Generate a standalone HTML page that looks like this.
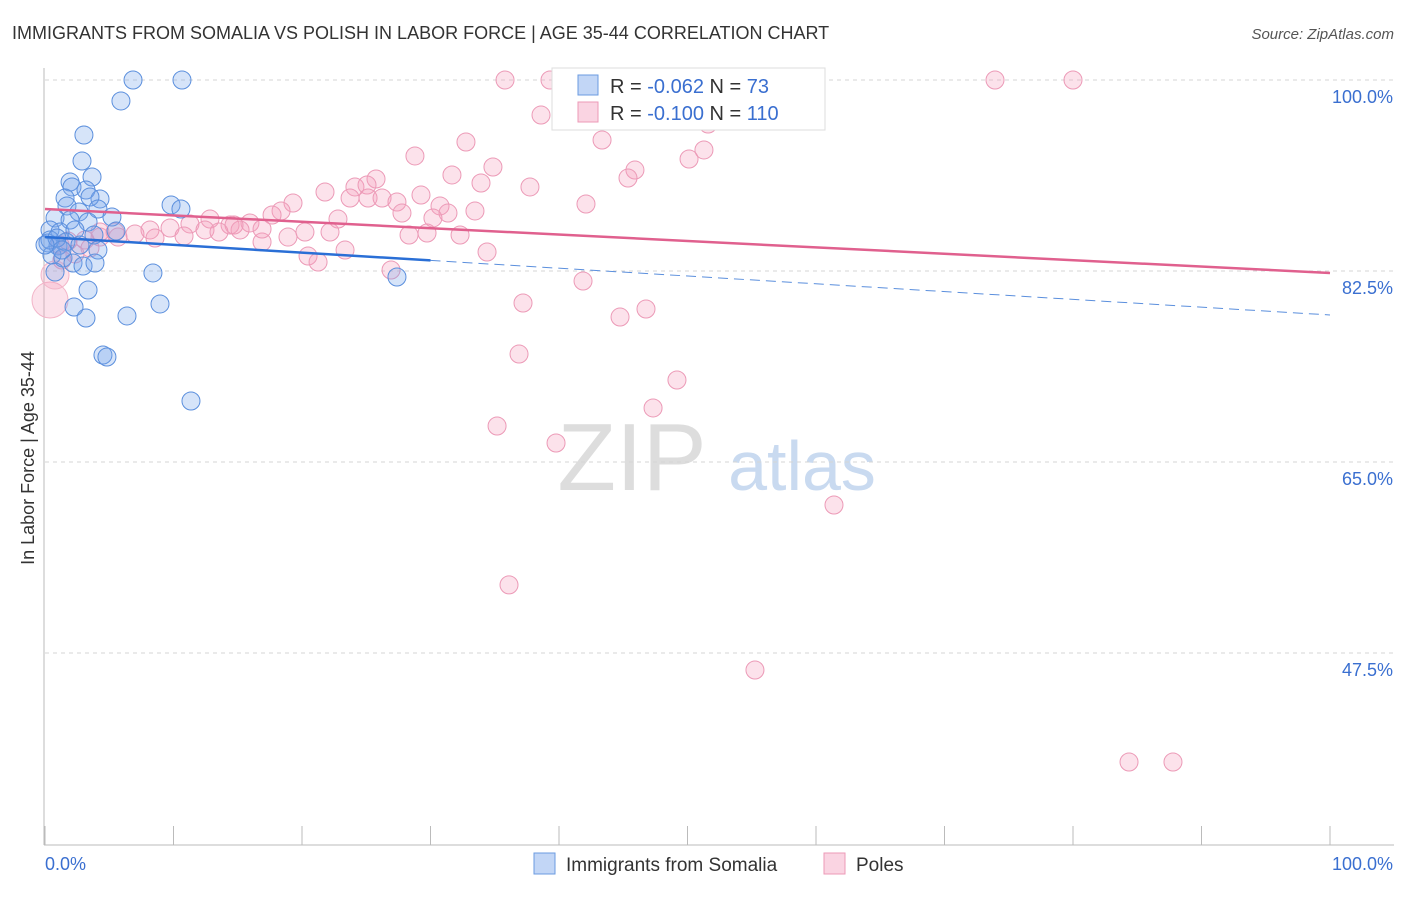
<!DOCTYPE html>
<html><head><meta charset="utf-8"><style>
body{margin:0;background:#fff;font-family:"Liberation Sans",sans-serif;}
svg text{font-family:"Liberation Sans",sans-serif;}
</style></head><body>
<svg width="1406" height="892" viewBox="0 0 1406 892" xmlns="http://www.w3.org/2000/svg">
<text x="12" y="39" font-size="18" fill="#333">IMMIGRANTS FROM SOMALIA VS POLISH IN LABOR FORCE | AGE 35-44 CORRELATION CHART</text>
<text x="1394" y="39" font-size="15" fill="#555" font-style="italic" text-anchor="end">Source: ZipAtlas.com</text>
<g><text x="632" y="490" font-size="96" fill="#ddd" font-family="Liberation Serif" text-anchor="middle">ZIP</text><text x="802" y="490" font-size="70" fill="#c9daf0" text-anchor="middle">atlas</text></g>
<g id="grid"></g><g id="axes"></g><g id="pts"></g><g id="lines"></g>
<text transform="translate(34,458) rotate(-90)" font-size="18" fill="#333" text-anchor="middle">In Labor Force | Age 35-44</text>
<g>
<rect x="552" y="68" width="273" height="62" fill="#fff" stroke="#ddd"/>
<rect x="578" y="75" width="20" height="20" fill="rgba(120,165,235,0.45)" stroke="#6b9be0"/>
<rect x="578" y="102" width="20" height="20" fill="rgba(245,160,190,0.45)" stroke="#ec9ab7"/>
<text x="610" y="93" font-size="20" fill="#333">R = <tspan fill="#3a6fd0">-0.062</tspan>   N =  <tspan fill="#3a6fd0">73</tspan></text>
<text x="610" y="120" font-size="20" fill="#333">R = <tspan fill="#3a6fd0">-0.100</tspan>   N = <tspan fill="#3a6fd0">110</tspan></text>
</g>
<g>
<rect x="534" y="853" width="21" height="21" fill="rgba(120,165,235,0.45)" stroke="#6b9be0"/>
<text x="566" y="871" font-size="19" fill="#333">Immigrants from Somalia</text>
<rect x="824" y="853" width="21" height="21" fill="rgba(245,160,190,0.45)" stroke="#ec9ab7"/>
<text x="856" y="871" font-size="19" fill="#333">Poles</text>
</g>
</svg>
<script>
const yTicks=[100,82.5,65,47.5];
const xTickLabels=["0.0%","100.0%"];
const blueX=[6.85,10.66,5.91,3.03,2.88,1.95,3.66,2.10,3.19,1.56,4.28,3.50,1.71,2.65,4.12,9.81,10.58,0.78,1.95,3.35,5.21,0.39,1.17,2.33,3.81,5.53,0.23,1.01,1.63,2.72,4.12,0.54,1.40,2.18,2.96,3.89,0.78,3.35,8.40,2.26,3.19,6.38,8.95,4.51,4.82,11.36,27.39,0.39,0.93,0.0,1.32];
const blueY=[100,100,98.08,94.96,92.58,90.65,91.11,90.20,89.92,89.19,89.10,89.28,88.46,87.91,88.18,88.55,88.18,87.36,87.17,86.99,87.45,86.26,86.07,86.26,85.80,86.16,85.07,84.79,85.16,84.88,84.42,83.97,83.69,83.23,82.96,83.23,82.41,80.76,82.32,79.20,78.19,78.38,79.48,74.80,74.62,70.59,81.95,85.34,85.52,84.88,84.42];
const pinkX=[35.80,39.30,40.47,42.41,53.15,54.09,56.03,73.93,80.00,38.60,40.54,51.60,43.35,32.76,28.79,51.28,34.86,50.12,45.91,45.37,31.67,33.93,25.76,24.12,25.06,21.79,37.74,23.74,25.14,26.23,27.39,29.26,42.10,30.74,33.46,31.36,27.78,22.80,19.30,18.37,17.67,15.95,14.40,12.84,11.28,9.73,8.17,7.00,5.68,4.28,3.11,1.79,20.23,22.18,16.89,18.91,30.19,28.33,29.73,32.30,23.35,20.47,21.25,26.93,34.40,41.87,37.20,44.75,46.77,36.89,49.18,47.32,35.18,39.77,61.40,36.11,55.25,84.36,87.78,8.56,15.18,12.45,5.45,4.28,1.17,2.33,3.50,1.32,10.82,16.89,14.71,13.54];
const pinkY=[100,100,100,100,100,100,100,100,100,96.79,97.07,95.97,94.50,94.32,93.04,93.59,92.03,92.76,91.75,91.02,91.30,90.56,90.93,90.20,90.38,89.74,90.20,89.19,89.19,89.19,88.82,89.46,88.64,88.46,88.00,87.81,87.81,87.26,88.73,88.00,87.63,86.90,86.71,87.26,86.81,86.44,86.26,85.89,85.61,85.61,85.34,85.25,86.07,86.07,85.16,85.61,87.36,85.80,85.98,85.80,84.42,83.87,83.32,82.59,84.24,81.58,79.57,78.28,79.02,74.89,72.51,69.95,68.30,66.74,61.06,53.74,45.94,37.51,37.51,85.52,86.26,86.26,86.07,86.07,84.88,84.06,84.61,83.51,85.71,86.35,86.71,86.07];
const pinkBigX=[0.39,0.78];
const pinkBigY=[79.84,82.13];
const pinkTrend=[88.18,82.32];
const blueTrend=[85.61,78.47];
const blueSolidEnd=30;

const NS="http://www.w3.org/2000/svg";
const X=v=>45+v*12.85;
const Y=v=>80+(100-v)*10.914;
function mk(tag,attrs,parent){const e=document.createElementNS(NS,tag);for(const k in attrs)e.setAttribute(k,attrs[k]);document.getElementById(parent).appendChild(e);return e;}
yTicks.forEach(t=>{
 const l=mk('line',{x1:45,x2:1394,y1:Y(t),y2:Y(t),stroke:'#d5d5d5','stroke-dasharray':'4,4'},'grid');
 
 
 const tx=mk('text',{x:1393,y:Y(t)+23,'font-size':18,fill:'#3a6fd0','text-anchor':'end'},'grid');
 tx.textContent=t.toFixed(1)+'%';
 
 
});
const ax=mk('line',{x1:44,x2:44,y1:68,y2:845,stroke:'#bbb'},'axes');


const bx=mk('line',{x1:44,x2:1394,y1:845,y2:845,stroke:'#bbb'},'axes');


for(let i=0;i<=10;i++){const t=mk('line',{x1:X(i*10),x2:X(i*10),y1:826,y2:845,stroke:'#bbb'},'axes');
 
 }
xTickLabels.forEach((s,i)=>{const t=mk('text',{x:i?1393:45,y:870,'font-size':18,fill:'#3a6fd0','text-anchor':i?'end':'start'},'axes');t.textContent=s;
 
 });
pinkX.forEach((x,i)=>{const c=mk('circle',{cx:X(x),cy:Y(pinkY[i]),r:9,fill:'rgba(245,160,190,0.3)',stroke:'#ec9ab7','stroke-width':1},'pts');
 
 });
pinkBigX.forEach((x,i)=>{const c=mk('circle',{cx:X(x),cy:Y(pinkBigY[i]),r:i?14:18,fill:'rgba(245,160,190,0.3)',stroke:'#f2b4c8','stroke-width':1},'pts');
 
 });
blueX.forEach((x,i)=>{const c=mk('circle',{cx:X(x),cy:Y(blueY[i]),r:9,fill:'rgba(120,165,235,0.3)',stroke:'#5b8fdd','stroke-width':1},'pts');
 
 });
const pl=mk('line',{x1:X(0),y1:Y(pinkTrend[0]),x2:X(100),y2:Y(pinkTrend[1]),stroke:'#e0608e','stroke-width':2.5},'lines');


const bm=blueTrend[0]+(blueTrend[1]-blueTrend[0])*blueSolidEnd/100;
const bl=mk('line',{x1:X(0),y1:Y(blueTrend[0]),x2:X(blueSolidEnd),y2:Y(bm),stroke:'#2a6fd6','stroke-width':2.5},'lines');


const bd=mk('line',{x1:X(blueSolidEnd),y1:Y(bm),x2:X(100),y2:Y(blueTrend[1]),stroke:'#5b8fdd','stroke-width':1,'stroke-dasharray':'10,6'},'lines');


</script>
</body></html>
